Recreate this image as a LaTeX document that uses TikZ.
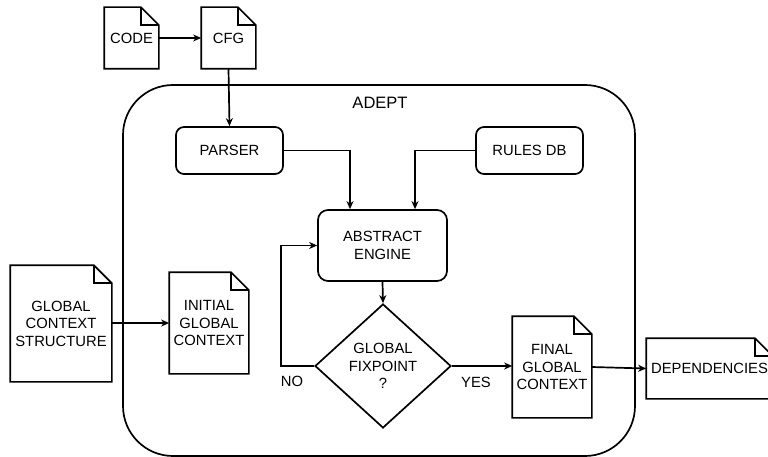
\documentclass[tikz,border=0pt]{standalone}
\usepackage{fontspec}
\setmainfont{Liberation Sans}
\usetikzlibrary{arrows.meta,shapes.geometric}

\begin{document}
\begin{tikzpicture}[x=1pt,y=-1pt,
  line width=1.7pt,
  txt/.style={font=\fontsize{14.8}{17.5}\selectfont, align=center},
  docnode/.style={txt, rectangle, draw=none, inner sep=0pt},
  procbox/.style={txt, rectangle, draw, rounded corners=8pt, inner sep=0pt},
  decision/.style={txt, diamond, draw, inner sep=0pt},
  container/.style={rectangle, draw, rounded corners=50pt, inner sep=0pt},
  flow/.style={-{Stealth[length=8pt,width=7pt,inset=2.5pt]}},
  lbl/.style={txt, inner sep=0pt}
]
\useasboundingbox (0,0) rectangle (768,457);

% outer system boundary
\node[container, minimum width=512pt, minimum height=371pt] (adept) at (379,270.5) {};
\node[txt, font=\fontsize{16.5}{19}\selectfont, inner sep=0pt] (adeptlbl) at (380,103) {ADEPT};

% document-shaped nodes (outline drawn below)
\node[docnode, minimum width=53pt, minimum height=60pt] (code) at (131.5,38) {CODE};
\node[docnode, minimum width=53pt, minimum height=60pt] (cfg) at (228.5,38) {CFG};
\node[docnode, minimum width=100pt, minimum height=115pt] (gcs) at (61,323.5) {GLOBAL\\CONTEXT\\STRUCTURE};
\node[docnode, minimum width=78pt, minimum height=100pt] (init) at (209,323) {INITIAL\\GLOBAL\\CONTEXT};
\node[docnode, minimum width=78pt, minimum height=100pt] (final) at (552,367) {FINAL\\GLOBAL\\CONTEXT};
\node[docnode, minimum width=125pt, minimum height=59pt] (deps) at (709.5,368.5) {DEPENDENCIES};

\foreach \n in {code,cfg,gcs,init,final,deps} {
  \draw (\n.north west) -- ([xshift=-18pt]\n.north east) -- ([yshift=-18pt]\n.north east)
        -- (\n.south east) -- (\n.south west) -- cycle;
  \draw ([xshift=-18pt]\n.north east) -- ([xshift=-18pt,yshift=-18pt]\n.north east)
        -- ([yshift=-18pt]\n.north east);
}

% processing steps
\node[procbox, minimum width=107pt, minimum height=47pt] (parser) at (229.5,150.5) {PARSER};
\node[procbox, minimum width=107pt, minimum height=47pt] (rules) at (529.5,150.5) {RULES DB};
\node[procbox, rounded corners=10pt, minimum width=129pt, minimum height=71pt] (engine) at (382.5,245.5) {ABSTRACT\\ENGINE};
\node[decision, minimum width=136pt, minimum height=124pt] (fix) at (383,366) {GLOBAL\\FIXPOINT\\?};

% connectors
\draw[flow] (code) -- (cfg);
\draw[flow] (cfg.south) -- (parser.north);
\draw[flow] (parser.east) -| ([xshift=-32.5pt]engine.north);
\draw[flow] (rules.west) -| ([xshift=32.5pt]engine.north);
\draw[flow] (engine.south) -- (fix.north);
\draw[flow] (fix.west) -- ++(-33,0) |- (engine.west);
\draw[flow] (gcs.east |- init.west) -- (init.west);
\draw[flow] (fix.east) -- (final.west |- fix.east);
\draw[flow] (final.east) -- (deps.west);

% branch labels
\node[lbl] (no) at (292,381) {NO};
\node[lbl] (yes) at (476,382) {YES};
\end{tikzpicture}
\end{document}
